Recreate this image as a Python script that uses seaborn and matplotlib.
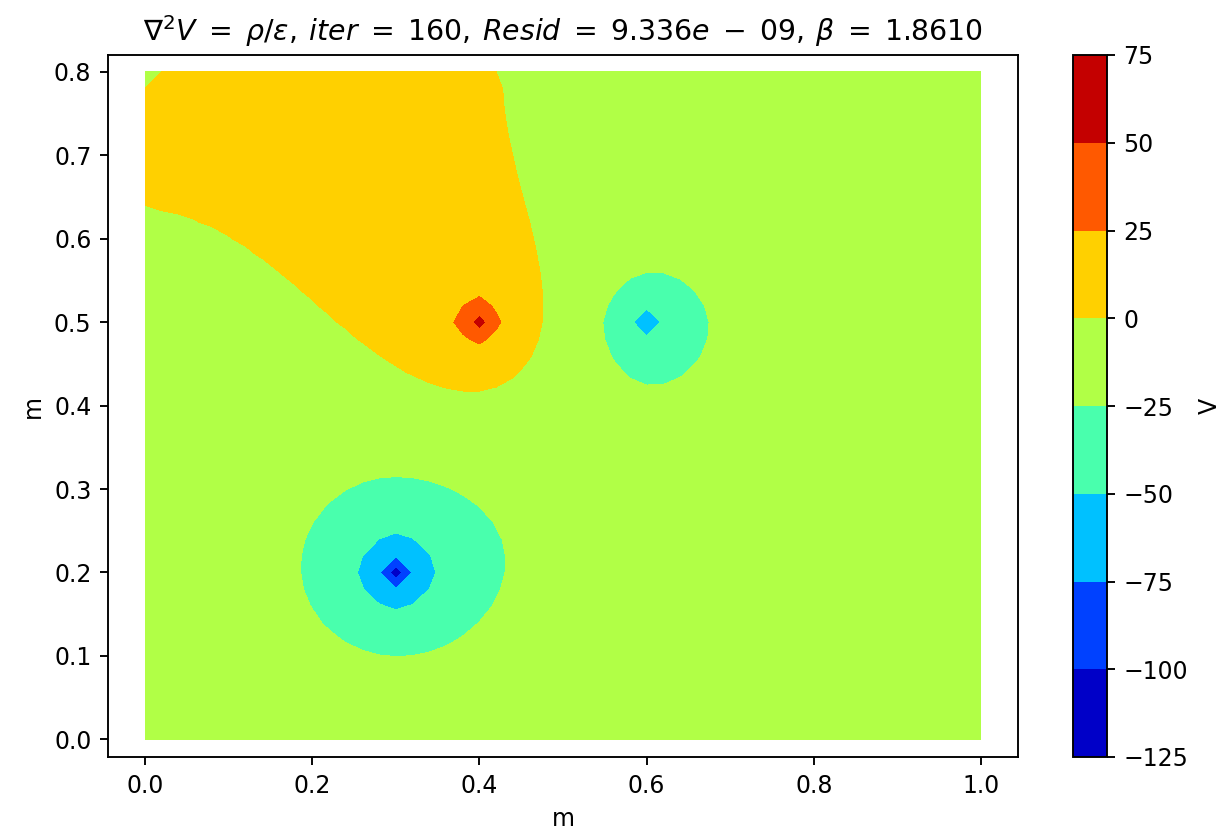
import numpy as np
import matplotlib
matplotlib.use("Agg")
import matplotlib.pyplot as plt
import seaborn as sns

# grid of the solver (nodes), box 1.0 x 0.8 m
n_x, n_y = 51, 41
box_w, box_h = 1.0, 0.8

# point charges (node source terms)
charge_x = [0.3, 0.4, 0.6]
charge_y = [0.2, 0.5, 0.5]
charge_q = [-169.0, 114.0, -107.0]

levels = [-125, -100, -75, -50, -25, 0, 25, 50, 75]
# extra spacing to match the wider mathtext spacing of the original
title = (r"$\nabla^2 V \;=\; \rho/\varepsilon,\: iter \;=\; 160,\: Resid \;=\; 9.336e"
         r" \;-\; 09,\: \beta \;=\; 1.8610$")

x = np.linspace(0, box_w, n_x)
y = np.linspace(0, box_h, n_y)
h = x[1] - x[0]

src = np.zeros((n_y, n_x))
for cx, cy, q in zip(charge_x, charge_y, charge_q):
    src[int(round(cy / h)), int(round(cx / h))] += q

# Dirichlet V=0 on the walls, 5-point Laplacian
ni, nj = n_y - 2, n_x - 2
A = np.zeros((ni * nj, ni * nj))
b = np.zeros(ni * nj)
for i in range(1, n_y - 1):
    for j in range(1, n_x - 1):
        k = (i - 1) * nj + (j - 1)
        A[k, k] = -4
        for di, dj in ((1, 0), (-1, 0), (0, 1), (0, -1)):
            ii, jj = i + di, j + dj
            if 1 <= ii < n_y - 1 and 1 <= jj < n_x - 1:
                A[k, (ii - 1) * nj + (jj - 1)] = 1
        b[k] = -src[i, j]
V = np.zeros((n_y, n_x))
V[1:-1, 1:-1] = np.linalg.solve(A, b).reshape(ni, nj)

dpi = 170
fig = plt.figure(figsize=(1231 / dpi, 836 / dpi), dpi=dpi)
ax = fig.add_axes([108 / 1231, 79 / 836, 910 / 1231, 702 / 836])
cax = fig.add_axes([1073 / 1231, 79 / 836, 34 / 1231, 702 / 836])

# jet sampled at the middle of each band, like contourf does
mids = (np.arange(len(levels) - 1) + 0.5) / (len(levels) - 1)
band_colors = sns.color_palette([plt.get_cmap("jet")(m) for m in mids])
cs = ax.contourf(x, y, V, levels=levels, colors=band_colors)
ax.set_xlim(-0.0443, 1.0443)
ax.set_ylim(-0.0212, 0.8203)
ax.set_xlabel("m")
ax.set_ylabel("m")
ax.set_title(title)

cb = fig.colorbar(cs, cax=cax)
cb.set_label("V")

fig.savefig("out.png", dpi=dpi)
